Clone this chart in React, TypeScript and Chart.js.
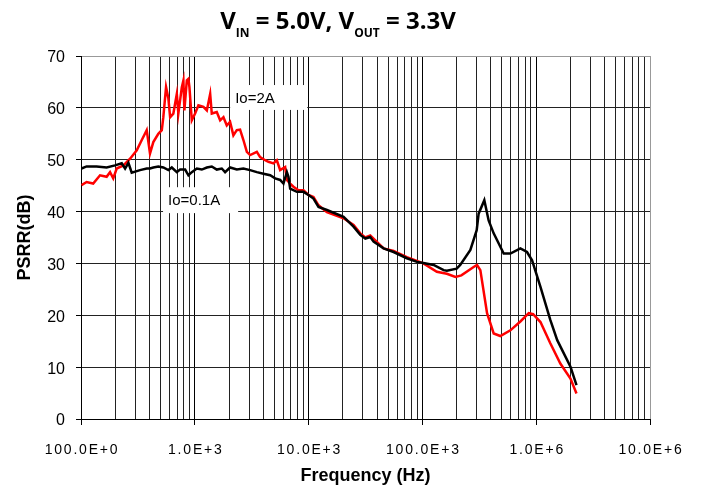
import React, { useEffect, useRef } from 'react';
import { Chart, registerables } from 'chart.js';

Chart.register(...registerables);

const FONT = '"Liberation Sans", Arial, Helvetica, sans-serif';
const TITLE_FONT = '"Open Sans", "Liberation Sans", sans-serif';

// X axis: decade tick values and their labels
const xTickValues = [100, 1000, 10000, 100000, 1000000, 10000000];
const xTickLabels = ['100.0E+0', '1.0E+3', '10.0E+3', '100.0E+3', '1.0E+6', '10.0E+6'];
const yMin = 0;
const yMax = 70;
const yStep = 10;

// Io = 0.1A (black)
const freqIo01 = [101, 112, 137, 168, 199, 228, 244, 261, 279, 330, 378, 404, 432, 478, 529, 586, 628, 695, 743, 822,
  879, 941, 1042, 1153, 1276, 1410, 1560, 1726, 1846, 2042, 2339, 2674, 3063, 3508, 4009, 4592, 5082, 5623, 6012, 6442,
  6653, 6887, 7887, 9016, 9977, 11040, 12220, 14490, 20280, 24830, 28440, 31500, 34830, 37240, 45600, 55850, 73000,
  89550, 102000, 125500, 153700, 164000, 200000, 215000, 264000, 300000, 312000, 350000, 382000, 423000, 518000, 593000,
  726000, 830000, 920000, 1090000, 1330000, 1530000, 2000000, 2260000];
const psrrIo01 = [48.3, 48.7, 48.7, 48.5, 48.9, 49.3, 48.3, 49.4, 47.5, 48.0, 48.3, 48.3, 48.5, 48.7, 48.5, 48.0, 48.5,
  47.6, 48.1, 48.1, 47.0, 47.6, 48.3, 48.1, 48.5, 48.7, 48.1, 48.3, 47.6, 48.5, 48.1, 48.3, 48.0, 47.6, 47.3, 47.0, 46.4,
  46.1, 45.4, 47.6, 46.7, 44.4, 43.8, 43.8, 43.2, 42.5, 40.9, 40.3, 39.0, 37.1, 35.5, 34.8, 35.1, 34.2, 32.9, 32.2, 31.0,
  30.3, 30.1, 29.7, 28.7, 28.6, 29.0, 29.7, 32.6, 36.4, 39.6, 42.2, 38.3, 35.8, 31.9, 31.9, 32.9, 32.2, 30.6, 25.5, 19.1,
  15.2, 10.1, 6.55];

// Io = 2A (red)
const freqIo2 = [101, 112, 128, 147, 168, 180, 192, 206, 236, 270, 309, 342, 378, 404, 432, 478, 513, 529, 559, 586, 607,
  648, 695, 717, 769, 794, 810, 851, 879, 897, 941, 1006, 1076, 1191, 1276, 1365, 1410, 1560, 1670, 1786, 1910, 2042,
  2183, 2339, 2500, 2674, 2866, 3063, 3508, 3750, 4150, 4436, 4909, 5260, 5623, 6223, 6442, 6887, 7362, 8147, 9016, 9977,
  11040, 12220, 14490, 20280, 24830, 28440, 31500, 34830, 45600, 55850, 73000, 102000, 134000, 164000, 195000, 220000,
  282000, 302000, 323000, 370000, 423000, 484000, 593000, 726000, 860000, 940000, 1090000, 1330000, 1630000, 2000000,
  2260000];
const psrrIo2 = [45.1, 45.7, 45.4, 47.0, 46.7, 47.6, 46.4, 48.3, 48.9, 50.2, 51.8, 53.8, 55.7, 51.2, 53.4, 55.0, 55.7, 58.2,
  64.0, 61.8, 58.2, 58.9, 62.7, 58.9, 64.0, 65.3, 59.5, 65.3, 65.6, 64.0, 57.6, 58.9, 60.5, 60.2, 59.5, 62.7, 58.9, 59.2,
  57.6, 58.2, 56.6, 57.3, 54.7, 55.7, 55.8, 53.8, 51.5, 50.9, 51.5, 50.5, 49.9, 49.6, 49.3, 49.9, 48.0, 48.6, 46.1, 45.4,
  44.8, 44.1, 44.1, 43.2, 42.8, 41.2, 39.9, 38.7, 37.4, 35.8, 35.0, 35.4, 32.9, 32.4, 31.2, 30.0, 28.4, 28.0, 27.4, 27.7,
  29.3, 29.7, 28.7, 20.4, 16.5, 16.0, 17.1, 18.8, 20.4, 20.2, 18.7, 14.6, 10.7, 7.8, 4.9];

// Labels inside white boxes (box extents in data units)
const noteText = ['Io=2A', 'Io=0.1A'];
const noteFreqMin = [2045, 526];
const noteFreqMax = [9720, 2404];
const noteDbMin = [59.6, 39.7];
const noteDbMax = [64.4, 44.7];

const isDecade = (v: number) => xTickValues.includes(v);

const notesPlugin = {
  id: 'notes',
  beforeDatasetsDraw(chart: any) {
    const { ctx, scales } = chart;
    const xs = scales.x;
    const ys = scales.y;
    ctx.save();
    for (let i = 0; i < noteText.length; i++) {
      const l = xs.getPixelForValue(noteFreqMin[i]);
      const r = xs.getPixelForValue(noteFreqMax[i]);
      const t = ys.getPixelForValue(noteDbMax[i]);
      const b = ys.getPixelForValue(noteDbMin[i]);
      ctx.fillStyle = '#ffffff';
      ctx.fillRect(l, t, r - l, b - t);
      ctx.fillStyle = '#000000';
      ctx.font = '15px ' + FONT;
      ctx.textAlign = 'left';
      ctx.textBaseline = 'middle';
      ctx.fillText(noteText[i], l + 5, (t + b) / 2 + 1);
    }
    ctx.restore();
  },
};

const labelsPlugin = {
  id: 'xlabels',
  afterDraw(chart: any) {
    const { ctx, scales } = chart;
    const xs = scales.x;
    ctx.save();
    ctx.font = '14px ' + FONT;
    (ctx as any).letterSpacing = '1.8px';
    ctx.fillStyle = '#000000';
    ctx.textAlign = 'center';
    ctx.textBaseline = 'alphabetic';
    xTickValues.forEach((v, i) => {
      ctx.fillText(xTickLabels[i], xs.getPixelForValue(v) + 1, xs.top + 35);
    });
    ctx.restore();
  },
};

const titlePlugin = {
  id: 'subTitle',
  afterDraw(chart: any) {
    const { ctx } = chart;
    const parts: [string, boolean][] = [
      ['V', false], ['IN', true], [' = 5.0V, V', false], ['OUT', true], [' = 3.3V', false],
    ];
    const mainFont = 'bold 24px ' + TITLE_FONT;
    const subFont = 'bold 12px ' + TITLE_FONT;
    ctx.save();
    let total = 0;
    const widths = parts.map(([t, sub]) => {
      ctx.font = sub ? subFont : mainFont;
      const w = ctx.measureText(t).width;
      total += w;
      return w;
    });
    let x = 338 - total / 2;
    ctx.fillStyle = '#000000';
    ctx.textAlign = 'left';
    ctx.textBaseline = 'alphabetic';
    parts.forEach(([t, sub], i) => {
      ctx.font = sub ? subFont : mainFont;
      ctx.fillText(t, x, sub ? 37 : 28.5);
      x += widths[i];
    });
    ctx.restore();
  },
};

export default function App() {
  const ref = useRef<HTMLCanvasElement | null>(null);

  useEffect(() => {
    if (!ref.current) return;
    Chart.defaults.font.family = FONT;
    const chart = new Chart(ref.current, {
      type: 'line',
      data: {
        datasets: [
          {
            label: 'Io=0.1A',
            data: freqIo01.map((f, i) => ({ x: f, y: psrrIo01[i] })),
            borderColor: '#000000',
            borderWidth: 2.5,
            pointRadius: 0,
            tension: 0,
            fill: false,
          },
          {
            label: 'Io=2A',
            data: freqIo2.map((f, i) => ({ x: f, y: psrrIo2[i] })),
            borderColor: '#ff0000',
            borderWidth: 2.5,
            pointRadius: 0,
            tension: 0,
            fill: false,
          },
        ],
      },
      options: {
        animation: false,
        responsive: true,
        maintainAspectRatio: false,
        layout: { padding: { top: 56, right: 51, bottom: 0, left: 0 } },
        plugins: {
          legend: { display: false },
          tooltip: { enabled: false },
          title: { display: false },
        },
        scales: {
          x: {
            type: 'logarithmic',
            min: xTickValues[0],
            max: xTickValues[xTickValues.length - 1],
            afterBuildTicks: (scale: any) => {
              const t: { value: number }[] = [];
              for (let d = 0; d < xTickValues.length - 1; d++) {
                for (let m = 1; m < 10; m++) t.push({ value: m * xTickValues[d] });
              }
              t.push({ value: xTickValues[xTickValues.length - 1] });
              scale.ticks = t;
            },
            afterFit: (scale: any) => {
              scale.height = 71;
            },
            ticks: { display: false, autoSkip: false },
            grid: {
              color: (c: any) => {
                const v = c.tick ? c.tick.value : 0;
                if (v === xTickValues[xTickValues.length - 1]) return '#999999';
                return isDecade(v) ? '#000000' : '#222222';
              },
              lineWidth: 1,
              tickLength: 6,
              tickColor: (c: any) => (c.tick && isDecade(c.tick.value) ? '#000000' : 'rgba(0,0,0,0)'),
            },
            border: { display: true, color: '#000000', width: 1 },
            title: {
              display: true,
              text: 'Frequency (Hz)',
              color: '#000000',
              font: { family: FONT, size: 18, weight: 'bold' },
              padding: { top: 0, bottom: 3 },
            },
          },
          y: {
            type: 'linear',
            min: yMin,
            max: yMax,
            afterFit: (scale: any) => {
              scale.width = 81;
            },
            ticks: {
              stepSize: yStep,
              color: '#000000',
              font: { family: FONT, size: 16 },
              padding: 11,
              labelOffset: 2,
            },
            grid: {
              color: (c: any) => (c.tick && c.tick.value === yMax ? '#999999' : '#222222'),
              lineWidth: 1,
              tickLength: 5,
              tickColor: '#000000',
            },
            border: { display: true, color: '#000000', width: 1 },
            title: {
              display: true,
              text: 'PSRR(dB)',
              color: '#000000',
              font: { family: FONT, size: 18, weight: 'bold' },
              padding: { top: 14, bottom: 0 },
            },
          },
        },
      },
      plugins: [notesPlugin, labelsPlugin, titlePlugin],
    } as any);
    return () => chart.destroy();
  }, []);

  return (
    <div style={{ position: 'fixed', left: 0, top: 0, width: 701, height: 490, background: '#ffffff' }}>
      <canvas ref={ref} />
    </div>
  );
}
